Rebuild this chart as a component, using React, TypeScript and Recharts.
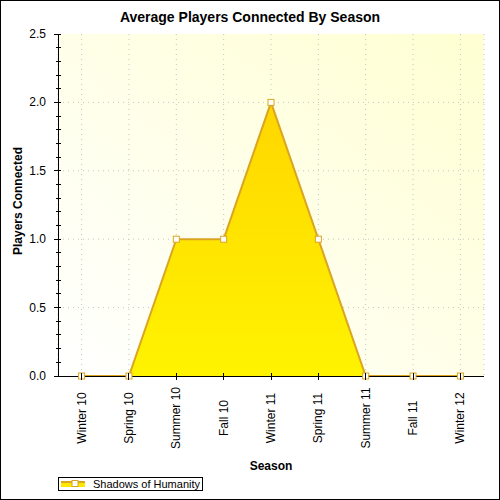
import React from 'react';
import { AreaChart, Area, XAxis, YAxis, CartesianGrid, Legend, Label } from 'recharts';

const seasons = ['Winter 10', 'Spring 10', 'Summer 10', 'Fall 10', 'Winter 11', 'Spring 11', 'Summer 11', 'Fall 11', 'Winter 12'];
const players = [0, 0, 1, 1, 2, 1, 0, 0, 0];
const yTicks = [0, 0.1, 0.2, 0.3, 0.4, 0.5, 0.6, 0.7, 0.8, 0.9, 1, 1.1, 1.2, 1.3, 1.4, 1.5, 1.6, 1.7, 1.8, 1.9, 2, 2.1, 2.2, 2.3, 2.4, 2.5];
const majorTicks = [0, 0.5, 1, 1.5, 2, 2.5];
const gridValues = [0.5, 1, 1.5, 2];
const seriesName = 'Shadows of Humanity';
const title = 'Average Players Connected By Season';
const xTitle = 'Season';
const yTitle = 'Players Connected';

const data = seasons.map((s, i) => ({ season: s, players: players[i] }));

const FONT = '"Liberation Sans", Arial, sans-serif';
const GOLD = '#DAA520';

const isMajor = (v: number) => majorTicks.some((m) => Math.abs(m - v) < 1e-6);

const LeftTick = (props: any) => {
  const { x, y, payload } = props;
  const v = payload.value as number;
  const major = isMajor(v);
  return (
    <g>
      <line x1={x - (major ? 4 : 2)} x2={x + 3} y1={y} y2={y} stroke="#000" shapeRendering="crispEdges" />
      {major && (
        <text x={x - 12} y={y} dy={4} textAnchor="end" fontSize={12} fontFamily={FONT} fill="#000">
          {v.toFixed(1)}
        </text>
      )}
    </g>
  );
};

const RightTick = (props: any) => {
  const { x, y } = props;
  return <line x1={x - 4} x2={x} y1={y} y2={y} stroke="#000" shapeRendering="crispEdges" />;
};

const TopTick = (props: any) => {
  const { x, y } = props;
  return <line x1={x} x2={x} y1={y} y2={y + 4} stroke="#000" shapeRendering="crispEdges" />;
};

const BottomTick = (props: any) => {
  const { x, y, payload } = props;
  const cy = y + 42;
  return (
    <g>
      <line x1={x} x2={x} y1={y - 3} y2={y + 4} stroke="#000" shapeRendering="crispEdges" />
      <text
        x={x}
        y={cy}
        dy={4}
        textAnchor="middle"
        transform={`rotate(-90, ${x}, ${cy})`}
        fontSize={12}
        fontFamily={FONT}
        fill="#000"
      >
        {payload.value}
      </text>
    </g>
  );
};

const SquareDot = (props: any) => {
  const { cx, cy } = props;
  if (cx == null || cy == null) return null;
  return <rect x={cx - 3} y={cy - 3} width={6} height={6} fill="#fff" stroke={GOLD} strokeWidth={1} />;
};

const LegendContent = (props: any) => {
  const item = props.payload && props.payload[0];
  const name = item ? item.value : seriesName;
  return (
    <div
      style={{
        border: '1px solid #000',
        width: 143,
        height: 12,
        position: 'relative',
        background: '#fff',
        boxSizing: 'content-box',
      }}
    >
      <svg width={26} height={12} style={{ position: 'absolute', left: 2, top: 0 }}>
        <rect x={0} y={3} width={24} height={6} fill="#FFE800" />
        <line x1={0} x2={24} y1={4} y2={4} stroke={GOLD} strokeWidth={2} />
        <rect x={11} y={2.5} width={6} height={6} fill="#fff" stroke={GOLD} strokeWidth={1} />
      </svg>
      <span
        style={{
          position: 'absolute',
          left: 34,
          top: 0,
          fontSize: 11,
          lineHeight: '12px',
          fontFamily: FONT,
          color: '#000',
          whiteSpace: 'nowrap',
        }}
      >
        {name}
      </span>
    </div>
  );
};

const YLabel = (props: any) => {
  const vb = props.viewBox || { x: 0, y: 34, width: 58, height: 342 };
  const cx = 17;
  const cy = vb.y + vb.height / 2 - 4;
  return (
    <text
      x={cx}
      y={cy}
      dy={4.5}
      textAnchor="middle"
      transform={`rotate(-90, ${cx}, ${cy})`}
      fontSize={12}
      fontWeight="bold"
      fontFamily={FONT}
      fill="#000"
    >
      {yTitle}
    </text>
  );
};

export default function App() {
  return (
    <div style={{ position: 'fixed', left: 0, top: 0, width: 500, height: 500, background: '#fff' }}>
      <div
        style={{
          position: 'absolute',
          left: 0,
          top: 9,
          width: 500,
          textAlign: 'center',
          fontFamily: FONT,
          fontWeight: 'bold',
          fontSize: 14,
          lineHeight: '16px',
          color: '#000',
        }}
      >
        {title}
      </div>
      <div style={{ position: 'absolute', left: 0, top: 0 }}>
        <AreaChart width={500} height={500} data={data} margin={{ top: 34, right: 16, left: 0, bottom: 0 }}>
          <defs>
            <linearGradient id="bgGrad" x1="0" y1="1" x2="1" y2="0">
              <stop offset="0%" stopColor="#FFFFFF" />
              <stop offset="100%" stopColor="#FFFFD2" />
            </linearGradient>
            <linearGradient id="areaFill" x1="0" y1="0" x2="0" y2="1">
              <stop offset="0%" stopColor="#FFD600" />
              <stop offset="100%" stopColor="#FFF300" />
            </linearGradient>
          </defs>
          <CartesianGrid
            fill="url(#bgGrad)"
            fillOpacity={1}
            stroke="#C4C4C4"
            strokeDasharray="1 4"
            horizontalValues={gridValues}
          />
          <XAxis
            dataKey="season"
            height={124}
            padding={{ left: 23.6, right: 23.6 }}
            interval={0}
            tickSize={0}
            tickMargin={0}
            tickLine={false}
            axisLine={{ stroke: '#000', shapeRendering: 'crispEdges' } as any}
            tick={<BottomTick />}
          >
            <Label
              value={xTitle}
              position="insideBottom"
              offset={30}
              style={{ fontSize: 12, fontWeight: 'bold', fontFamily: FONT, fill: '#000' }}
            />
          </XAxis>
          <XAxis
            xAxisId="t"
            orientation="top"
            dataKey="season"
            height={0}
            padding={{ left: 23.6, right: 23.6 }}
            interval={0}
            tickSize={0}
            tickMargin={0}
            tickLine={false}
            axisLine={{ stroke: '#000', shapeRendering: 'crispEdges' } as any}
            tick={<TopTick />}
          />
          <YAxis
            width={58}
            domain={[0, 2.5]}
            ticks={yTicks}
            interval={0}
            tickSize={0}
            tickMargin={0}
            tickLine={false}
            axisLine={{ stroke: '#000', shapeRendering: 'crispEdges' } as any}
            tick={<LeftTick />}
            label={<YLabel />}
          />
          <YAxis
            yAxisId="r"
            orientation="right"
            width={0}
            domain={[0, 2.5]}
            ticks={yTicks}
            interval={0}
            tickSize={0}
            tickMargin={0}
            tickLine={false}
            axisLine={{ stroke: '#000', shapeRendering: 'crispEdges' } as any}
            tick={<RightTick />}
          />
          <Area
            type="linear"
            dataKey="players"
            name={seriesName}
            stroke={GOLD}
            strokeWidth={2}
            fill="url(#areaFill)"
            fillOpacity={1}
            dot={<SquareDot />}
            activeDot={false}
            isAnimationActive={false}
          />
          <Legend
            layout="horizontal"
            verticalAlign="middle"
            align="center"
            content={<LegendContent />}
            wrapperStyle={{ position: 'absolute', left: 58, top: 477, width: 'auto', height: 'auto' }}
          />
        </AreaChart>
      </div>
      <div
        style={{
          position: 'absolute',
          left: 0,
          top: 0,
          width: 500,
          height: 500,
          border: '1px solid #000',
          boxSizing: 'border-box',
          pointerEvents: 'none',
        }}
      />
    </div>
  );
}
